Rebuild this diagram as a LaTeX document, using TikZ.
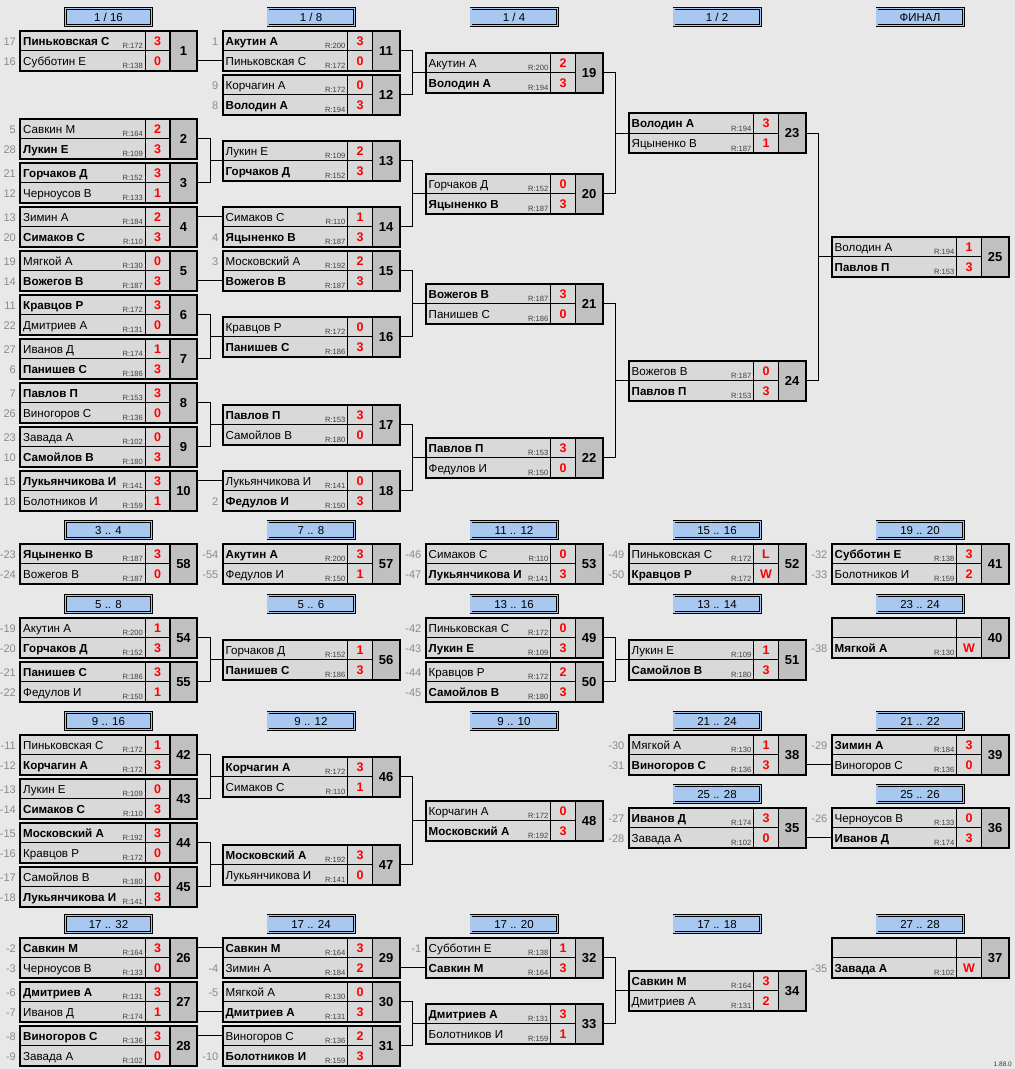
\documentclass[tikz,border=0pt]{standalone}
\usepackage{fontspec}
\setmainfont{Liberation Sans}
\definecolor{bgc}{HTML}{E8E8E8}
\definecolor{cellc}{HTML}{D9D9D9}
\definecolor{numc}{HTML}{C0C0C0}
\definecolor{hdrc}{HTML}{A8C8F0}
\definecolor{labc}{HTML}{8A8A8A}
\definecolor{scorec}{HTML}{FF0000}
\tikzset{
  mrow/.style={draw=black, line width=0.7pt, fill=cellc, minimum width=125pt, minimum height=20pt, anchor=north west, inner sep=0pt, outer sep=0pt},
  mscore/.style={draw=black, line width=0.7pt, fill=cellc, minimum width=25pt, minimum height=20pt, anchor=north west, inner sep=0pt, outer sep=0pt, text=scorec, font=\bfseries\fontsize{12.5}{13}\selectfont, text height=9pt, text depth=0pt},
  mnum/.style={draw=black, line width=1.8pt, fill=numc, minimum width=27pt, minimum height=40pt, anchor=north west, inner sep=0pt, outer sep=0pt, font=\bfseries\fontsize{13}{14}\selectfont, text height=9.3pt, text depth=0pt},
  mframe/.style={draw=black, line width=2pt, minimum width=177pt, minimum height=40pt, anchor=north west, inner sep=0pt, outer sep=0pt},
  nametxt/.style={anchor=base west, inner sep=0pt, font=\fontsize{11.6}{12}\selectfont},
  rtxt/.style={anchor=base east, inner sep=0pt, text=black!75, font=\fontsize{7.6}{8}\selectfont},
  labtxt/.style={anchor=base east, inner sep=0pt, text=labc, font=\fontsize{11}{12}\selectfont},
  hdr/.style={draw=black, line width=0.6pt, double=hdrc, double distance=1.4pt, fill=hdrc, minimum width=86.4pt, minimum height=16.8pt, inner sep=0pt, font=\fontsize{11.5}{12}\selectfont, text height=8.2pt, text depth=0pt},
  link/.style={draw=black, line width=0.8pt},
}
\newcommand\Match[4]{\def\cid{#1}\def\cX{#2}\def\cY{#3}\def\cNum{#4}}
\newcommand\RowAt[7]{%
  \node[mrow] (\cid r#2) at (\cX,\cY+#1) {};
  \node[mscore] (\cid s#2) at (\cX+125,\cY+#1) {#6};
  \node[nametxt] (\cid t#2) at (\cX+3,\cY+#1+14.8) {#7#4};
  \node[rtxt] (\cid e#2) at (\cX+123,\cY+#1+18) {#5};
  \node[labtxt] (\cid l#2) at (\cX-4,\cY+#1+14.8) {#3};
}
\newcommand\RA[5]{\RowAt{0}{a}{#1}{#2}{#3}{#4}{#5}}
\newcommand\RB[5]{\RowAt{20}{b}{#1}{#2}{#3}{#4}{#5}}
\newcommand\EndM{%
  \node[mnum] (\cid n) at (\cX+150,\cY) {\cNum};
  \node[mframe] (\cid) at (\cX,\cY) {};
}
\newcommand\Hdr[4]{\node[hdr] (#1) at (#2+88.5,#3) {#4};}
\newcommand\Pair[3]{\draw[link] (#1.east) -- ++(13,0) |- (#3.west); \draw[link] (#2.east) -- ++(13,0) |- (#3.west);}
\newcommand\Direct[2]{\draw[link] (#1.east |- #2) -- (#2.west);}
\begin{document}
\begin{tikzpicture}[x=1pt,y=-1pt]
\useasboundingbox (0,0) rectangle (1015,1069);
\fill[bgc] (0,0) rectangle (1015,1069);
% ===== headers =====
\Hdr{h1}{20}{17}{1 / 16}
\Hdr{h2}{222.5}{17}{1 / 8}
\Hdr{h3}{425.5}{17}{1 / 4}
\Hdr{h4}{628.5}{17}{1 / 2}
\Hdr{h5}{831.5}{17}{ФИНАЛ}
\Hdr{h6}{20}{530}{3 .. 4}
\Hdr{h7}{222.5}{530}{7 .. 8}
\Hdr{h8}{425.5}{530}{11 .. 12}
\Hdr{h9}{628.5}{530}{15 .. 16}
\Hdr{h10}{831.5}{530}{19 .. 20}
\Hdr{h11}{20}{604}{5 .. 8}
\Hdr{h12}{222.5}{604}{5 .. 6}
\Hdr{h13}{425.5}{604}{13 .. 16}
\Hdr{h14}{628.5}{604}{13 .. 14}
\Hdr{h15}{831.5}{604}{23 .. 24}
\Hdr{h16}{20}{721}{9 .. 16}
\Hdr{h17}{222.5}{721}{9 .. 12}
\Hdr{h18}{425.5}{721}{9 .. 10}
\Hdr{h19}{628.5}{721}{21 .. 24}
\Hdr{h20}{831.5}{721}{21 .. 22}
\Hdr{h21}{628.5}{794}{25 .. 28}
\Hdr{h22}{831.5}{794}{25 .. 26}
\Hdr{h23}{20}{924}{17 .. 32}
\Hdr{h24}{222.5}{924}{17 .. 24}
\Hdr{h25}{425.5}{924}{17 .. 20}
\Hdr{h26}{628.5}{924}{17 .. 18}
\Hdr{h27}{831.5}{924}{27 .. 28}
% ===== main bracket =====
\Match{m1}{20}{30.5}{1}
\RA{17}{Пиньковская С}{R:172}{3}{\bfseries}
\RB{16}{Субботин Е}{R:138}{0}{}
\EndM
\Match{m2}{20}{118.5}{2}
\RA{5}{Савкин М}{R:164}{2}{}
\RB{28}{Лукин Е}{R:109}{3}{\bfseries}
\EndM
\Match{m3}{20}{162.5}{3}
\RA{21}{Горчаков Д}{R:152}{3}{\bfseries}
\RB{12}{Черноусов В}{R:133}{1}{}
\EndM
\Match{m4}{20}{206.5}{4}
\RA{13}{Зимин А}{R:184}{2}{}
\RB{20}{Симаков С}{R:110}{3}{\bfseries}
\EndM
\Match{m5}{20}{250.5}{5}
\RA{19}{Мягкой А}{R:130}{0}{}
\RB{14}{Вожегов В}{R:187}{3}{\bfseries}
\EndM
\Match{m6}{20}{294.5}{6}
\RA{11}{Кравцов Р}{R:172}{3}{\bfseries}
\RB{22}{Дмитриев А}{R:131}{0}{}
\EndM
\Match{m7}{20}{338.5}{7}
\RA{27}{Иванов Д}{R:174}{1}{}
\RB{6}{Панишев С}{R:186}{3}{\bfseries}
\EndM
\Match{m8}{20}{382.5}{8}
\RA{7}{Павлов П}{R:153}{3}{\bfseries}
\RB{26}{Виногоров С}{R:136}{0}{}
\EndM
\Match{m9}{20}{426.5}{9}
\RA{23}{Завада А}{R:102}{0}{}
\RB{10}{Самойлов В}{R:180}{3}{\bfseries}
\EndM
\Match{m10}{20}{470.5}{10}
\RA{15}{Лукьянчикова И}{R:141}{3}{\bfseries}
\RB{18}{Болотников И}{R:159}{1}{}
\EndM
\Match{m11}{222.5}{30.5}{11}
\RA{1}{Акутин А}{R:200}{3}{\bfseries}
\RB{}{Пиньковская С}{R:172}{0}{}
\EndM
\Match{m12}{222.5}{74.5}{12}
\RA{9}{Корчагин А}{R:172}{0}{}
\RB{8}{Володин А}{R:194}{3}{\bfseries}
\EndM
\Match{m13}{222.5}{140.5}{13}
\RA{}{Лукин Е}{R:109}{2}{}
\RB{}{Горчаков Д}{R:152}{3}{\bfseries}
\EndM
\Match{m14}{222.5}{206.5}{14}
\RA{}{Симаков С}{R:110}{1}{}
\RB{4}{Яцыненко В}{R:187}{3}{\bfseries}
\EndM
\Match{m15}{222.5}{250.5}{15}
\RA{3}{Московский А}{R:192}{2}{}
\RB{}{Вожегов В}{R:187}{3}{\bfseries}
\EndM
\Match{m16}{222.5}{316.5}{16}
\RA{}{Кравцов Р}{R:172}{0}{}
\RB{}{Панишев С}{R:186}{3}{\bfseries}
\EndM
\Match{m17}{222.5}{404.5}{17}
\RA{}{Павлов П}{R:153}{3}{\bfseries}
\RB{}{Самойлов В}{R:180}{0}{}
\EndM
\Match{m18}{222.5}{470.5}{18}
\RA{}{Лукьянчикова И}{R:141}{0}{}
\RB{2}{Федулов И}{R:150}{3}{\bfseries}
\EndM
\Match{m19}{425.5}{52.5}{19}
\RA{}{Акутин А}{R:200}{2}{}
\RB{}{Володин А}{R:194}{3}{\bfseries}
\EndM
\Match{m20}{425.5}{173.5}{20}
\RA{}{Горчаков Д}{R:152}{0}{}
\RB{}{Яцыненко В}{R:187}{3}{\bfseries}
\EndM
\Match{m21}{425.5}{283.5}{21}
\RA{}{Вожегов В}{R:187}{3}{\bfseries}
\RB{}{Панишев С}{R:186}{0}{}
\EndM
\Match{m22}{425.5}{437.5}{22}
\RA{}{Павлов П}{R:153}{3}{\bfseries}
\RB{}{Федулов И}{R:150}{0}{}
\EndM
\Match{m23}{628.5}{113}{23}
\RA{}{Володин А}{R:194}{3}{\bfseries}
\RB{}{Яцыненко В}{R:187}{1}{}
\EndM
\Match{m24}{628.5}{360.5}{24}
\RA{}{Вожегов В}{R:187}{0}{}
\RB{}{Павлов П}{R:153}{3}{\bfseries}
\EndM
\Match{m25}{831.5}{236.75}{25}
\RA{}{Володин А}{R:194}{1}{}
\RB{}{Павлов П}{R:153}{3}{\bfseries}
\EndM
% ===== placement row 2 =====
\Match{m58}{20}{543.5}{58}
\RA{-23}{Яцыненко В}{R:187}{3}{\bfseries}
\RB{-24}{Вожегов В}{R:187}{0}{}
\EndM
\Match{m57}{222.5}{543.5}{57}
\RA{-54}{Акутин А}{R:200}{3}{\bfseries}
\RB{-55}{Федулов И}{R:150}{1}{}
\EndM
\Match{m53}{425.5}{543.5}{53}
\RA{-46}{Симаков С}{R:110}{0}{}
\RB{-47}{Лукьянчикова И}{R:141}{3}{\bfseries}
\EndM
\Match{m52}{628.5}{543.5}{52}
\RA{-49}{Пиньковская С}{R:172}{L}{}
\RB{-50}{Кравцов Р}{R:172}{W}{\bfseries}
\EndM
\Match{m41}{831.5}{543.5}{41}
\RA{-32}{Субботин Е}{R:138}{3}{\bfseries}
\RB{-33}{Болотников И}{R:159}{2}{}
\EndM
% ===== row 3 =====
\Match{m54}{20}{617.5}{54}
\RA{-19}{Акутин А}{R:200}{1}{}
\RB{-20}{Горчаков Д}{R:152}{3}{\bfseries}
\EndM
\Match{m55}{20}{661.5}{55}
\RA{-21}{Панишев С}{R:186}{3}{\bfseries}
\RB{-22}{Федулов И}{R:150}{1}{}
\EndM
\Match{m56}{222.5}{639.5}{56}
\RA{}{Горчаков Д}{R:152}{1}{}
\RB{}{Панишев С}{R:186}{3}{\bfseries}
\EndM
\Match{m49}{425.5}{617.5}{49}
\RA{-42}{Пиньковская С}{R:172}{0}{}
\RB{-43}{Лукин Е}{R:109}{3}{\bfseries}
\EndM
\Match{m50}{425.5}{661.5}{50}
\RA{-44}{Кравцов Р}{R:172}{2}{}
\RB{-45}{Самойлов В}{R:180}{3}{\bfseries}
\EndM
\Match{m51}{628.5}{639.5}{51}
\RA{}{Лукин Е}{R:109}{1}{}
\RB{}{Самойлов В}{R:180}{3}{\bfseries}
\EndM
\Match{m40}{831.5}{617.5}{40}
\RA{}{}{}{}{}
\RB{-38}{Мягкой А}{R:130}{W}{\bfseries}
\EndM
% ===== row 4 =====
\Match{m42}{20}{734.5}{42}
\RA{-11}{Пиньковская С}{R:172}{1}{}
\RB{-12}{Корчагин А}{R:172}{3}{\bfseries}
\EndM
\Match{m43}{20}{778.5}{43}
\RA{-13}{Лукин Е}{R:109}{0}{}
\RB{-14}{Симаков С}{R:110}{3}{\bfseries}
\EndM
\Match{m44}{20}{822.5}{44}
\RA{-15}{Московский А}{R:192}{3}{\bfseries}
\RB{-16}{Кравцов Р}{R:172}{0}{}
\EndM
\Match{m45}{20}{866.5}{45}
\RA{-17}{Самойлов В}{R:180}{0}{}
\RB{-18}{Лукьянчикова И}{R:141}{3}{\bfseries}
\EndM
\Match{m46}{222.5}{756.5}{46}
\RA{}{Корчагин А}{R:172}{3}{\bfseries}
\RB{}{Симаков С}{R:110}{1}{}
\EndM
\Match{m47}{222.5}{844.5}{47}
\RA{}{Московский А}{R:192}{3}{\bfseries}
\RB{}{Лукьянчикова И}{R:141}{0}{}
\EndM
\Match{m48}{425.5}{800.5}{48}
\RA{}{Корчагин А}{R:172}{0}{}
\RB{}{Московский А}{R:192}{3}{\bfseries}
\EndM
\Match{m38}{628.5}{734.5}{38}
\RA{-30}{Мягкой А}{R:130}{1}{}
\RB{-31}{Виногоров С}{R:136}{3}{\bfseries}
\EndM
\Match{m39}{831.5}{734.5}{39}
\RA{-29}{Зимин А}{R:184}{3}{\bfseries}
\RB{}{Виногоров С}{R:136}{0}{}
\EndM
\Match{m35}{628.5}{807.5}{35}
\RA{-27}{Иванов Д}{R:174}{3}{\bfseries}
\RB{-28}{Завада А}{R:102}{0}{}
\EndM
\Match{m36}{831.5}{807.5}{36}
\RA{-26}{Черноусов В}{R:133}{0}{}
\RB{}{Иванов Д}{R:174}{3}{\bfseries}
\EndM
% ===== row 5 =====
\Match{m26}{20}{937.5}{26}
\RA{-2}{Савкин М}{R:164}{3}{\bfseries}
\RB{-3}{Черноусов В}{R:133}{0}{}
\EndM
\Match{m27}{20}{981.5}{27}
\RA{-6}{Дмитриев А}{R:131}{3}{\bfseries}
\RB{-7}{Иванов Д}{R:174}{1}{}
\EndM
\Match{m28}{20}{1025.5}{28}
\RA{-8}{Виногоров С}{R:136}{3}{\bfseries}
\RB{-9}{Завада А}{R:102}{0}{}
\EndM
\Match{m29}{222.5}{937.5}{29}
\RA{}{Савкин М}{R:164}{3}{\bfseries}
\RB{-4}{Зимин А}{R:184}{2}{}
\EndM
\Match{m30}{222.5}{981.5}{30}
\RA{-5}{Мягкой А}{R:130}{0}{}
\RB{}{Дмитриев А}{R:131}{3}{\bfseries}
\EndM
\Match{m31}{222.5}{1025.5}{31}
\RA{}{Виногоров С}{R:136}{2}{}
\RB{-10}{Болотников И}{R:159}{3}{\bfseries}
\EndM
\Match{m32}{425.5}{937.5}{32}
\RA{-1}{Субботин Е}{R:138}{1}{}
\RB{}{Савкин М}{R:164}{3}{\bfseries}
\EndM
\Match{m33}{425.5}{1003.5}{33}
\RA{}{Дмитриев А}{R:131}{3}{\bfseries}
\RB{}{Болотников И}{R:159}{1}{}
\EndM
\Match{m34}{628.5}{970.5}{34}
\RA{}{Савкин М}{R:164}{3}{\bfseries}
\RB{}{Дмитриев А}{R:131}{2}{}
\EndM
\Match{m37}{831.5}{937.5}{37}
\RA{}{}{}{}{}
\RB{-35}{Завада А}{R:102}{W}{\bfseries}
\EndM
% ===== connectors =====
\Direct{m1}{m11rb}
\Pair{m2}{m3}{m13}
\Direct{m4}{m14ra}
\Direct{m5}{m15rb}
\Pair{m6}{m7}{m16}
\Pair{m8}{m9}{m17}
\Direct{m10}{m18ra}
\Pair{m11}{m12}{m19}
\Pair{m13}{m14}{m20}
\Pair{m15}{m16}{m21}
\Pair{m17}{m18}{m22}
\Pair{m19}{m20}{m23}
\Pair{m21}{m22}{m24}
\Pair{m23}{m24}{m25}
\Pair{m54}{m55}{m56}
\Pair{m49}{m50}{m51}
\Pair{m42}{m43}{m46}
\Pair{m44}{m45}{m47}
\Pair{m46}{m47}{m48}
\Direct{m38}{m39rb}
\Direct{m35}{m36rb}
\Direct{m26}{m29ra}
\Direct{m27}{m30rb}
\Direct{m28}{m31ra}
\Direct{m29}{m32rb}
\Pair{m30}{m31}{m33}
\Pair{m32}{m33}{m34}
\node[anchor=base east, inner sep=0pt, font=\fontsize{6.5}{7}\selectfont, text=black!80] (ver) at (1012,1066) {1.88.0};
\end{tikzpicture}
\end{document}
